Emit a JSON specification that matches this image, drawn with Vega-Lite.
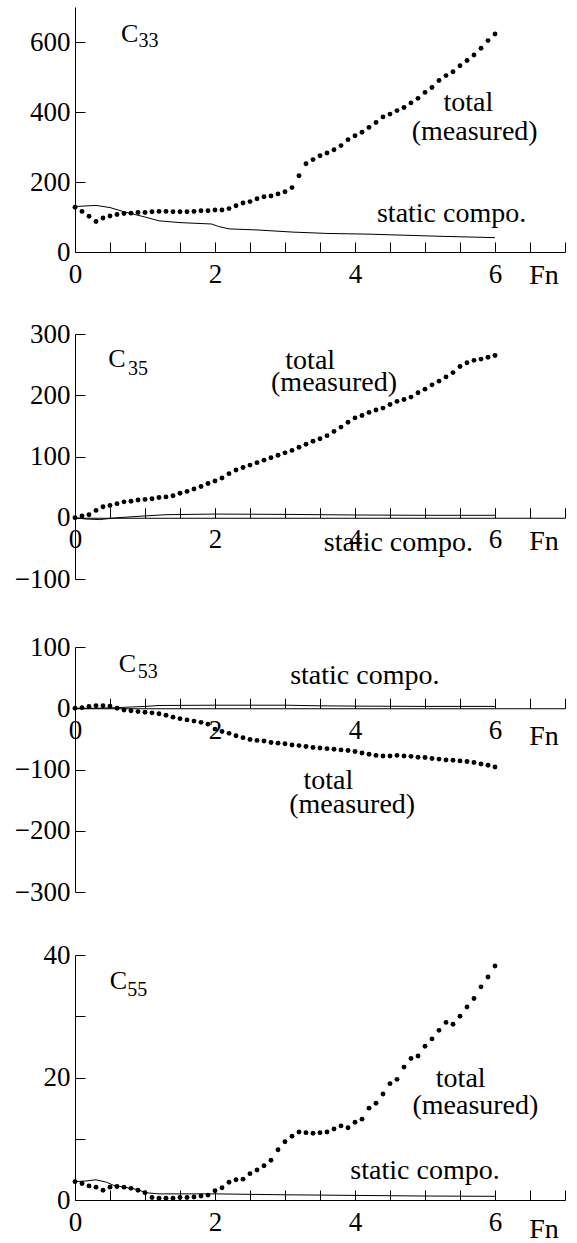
{
  "$schema": "https://vega.github.io/schema/vega-lite/v6.json",
  "padding": {"left": 13, "top": 7, "right": 0, "bottom": 0},
  "background": "white",
  "config": {
    "view": {"stroke": null},
    "font": "Liberation Serif, Times New Roman, DejaVu Serif, serif",
    "axis": {
      "grid": false, "title": null, "domainColor": "black", "tickColor": "black", "labelColor": "black",
      "labelFont": "Liberation Serif, Times New Roman, DejaVu Serif, serif", "labelFontSize": 27, "labelFlush": false, "labelOverlap": false,
      "tickSize": -10, "domainWidth": 1, "tickWidth": 1, "format": "d"
    },
    "axisX": {"values": [0,1,2,3,4,5,6,7], "labelExpr": "datum.value % 2 == 0 && datum.value < 7 ? datum.label : ''", "labelPadding": 19},
    "axisY": {"labelPadding": 15, "minExtent": 62},
    "text": {"font": "Liberation Serif, Times New Roman, DejaVu Serif, serif", "fontSize": 28, "color": "black", "align": "center", "baseline": "middle"},
    "line": {"color": "black", "strokeWidth": 1},
    "point": {"filled": true, "color": "black", "size": 24, "opacity": 1}
  },
  "datasets": {
    "c33_total": [
      {"x":0,"y":128},{"x":0.1,"y":116},{"x":0.2,"y":102},{"x":0.3,"y":87},{"x":0.4,"y":97},{"x":0.5,"y":103},{"x":0.6,"y":107},{"x":0.7,"y":110},{"x":0.8,"y":111},{"x":0.9,"y":113},
      {"x":1.0,"y":113},{"x":1.1,"y":115},{"x":1.2,"y":116},{"x":1.3,"y":116},{"x":1.4,"y":115},{"x":1.5,"y":115},{"x":1.6,"y":115},{"x":1.7,"y":116},{"x":1.8,"y":118},{"x":1.9,"y":118},
      {"x":2.0,"y":120},{"x":2.1,"y":120},{"x":2.2,"y":124},{"x":2.3,"y":132},{"x":2.4,"y":140},{"x":2.5,"y":144},{"x":2.6,"y":152},{"x":2.7,"y":158},{"x":2.8,"y":160},{"x":2.9,"y":166},
      {"x":3.0,"y":172},{"x":3.1,"y":184},{"x":3.2,"y":218},{"x":3.3,"y":252},{"x":3.4,"y":264},{"x":3.5,"y":275},{"x":3.6,"y":283},{"x":3.7,"y":292},{"x":3.8,"y":304},{"x":3.9,"y":321},
      {"x":4.0,"y":332},{"x":4.1,"y":342},{"x":4.2,"y":356},{"x":4.3,"y":370},{"x":4.4,"y":386},{"x":4.5,"y":394},{"x":4.6,"y":404},{"x":4.7,"y":413},{"x":4.8,"y":426},{"x":4.9,"y":439},
      {"x":5.0,"y":456},{"x":5.1,"y":470},{"x":5.2,"y":490},{"x":5.3,"y":504},{"x":5.4,"y":515},{"x":5.5,"y":532},{"x":5.6,"y":547},{"x":5.7,"y":563},{"x":5.8,"y":582},{"x":5.9,"y":604},
      {"x":6.0,"y":623}
    ],
    "c33_static": [
      {"x":0,"y":130},{"x":0.3,"y":133},{"x":0.5,"y":127},{"x":0.7,"y":115},{"x":1.0,"y":100},{"x":1.2,"y":89},{"x":1.5,"y":84},{"x":1.95,"y":80},{"x":2.05,"y":73},{"x":2.2,"y":66},{"x":2.6,"y":63},{"x":3.1,"y":57},{"x":3.6,"y":53},{"x":4.2,"y":51},{"x":4.7,"y":48},{"x":5.2,"y":45},{"x":5.6,"y":43},{"x":6.0,"y":41}
    ],
    "c35_total": [
      {"x":0,"y":0},{"x":0.1,"y":3},{"x":0.2,"y":5},{"x":0.3,"y":12},{"x":0.4,"y":18},{"x":0.5,"y":20},{"x":0.6,"y":23},{"x":0.7,"y":26},{"x":0.8,"y":27},{"x":0.9,"y":29},
      {"x":1.0,"y":30},{"x":1.1,"y":31},{"x":1.2,"y":33},{"x":1.3,"y":34},{"x":1.4,"y":36},{"x":1.5,"y":40},{"x":1.6,"y":43},{"x":1.7,"y":47},{"x":1.8,"y":51},{"x":1.9,"y":56},
      {"x":2.0,"y":60},{"x":2.1,"y":65},{"x":2.2,"y":72},{"x":2.3,"y":78},{"x":2.4,"y":82},{"x":2.5,"y":86},{"x":2.6,"y":90},{"x":2.7,"y":94},{"x":2.8,"y":98},{"x":2.9,"y":102},
      {"x":3.0,"y":106},{"x":3.1,"y":110},{"x":3.2,"y":115},{"x":3.3,"y":120},{"x":3.4,"y":125},{"x":3.5,"y":129},{"x":3.6,"y":134},{"x":3.7,"y":141},{"x":3.8,"y":148},{"x":3.9,"y":156},
      {"x":4.0,"y":163},{"x":4.1,"y":167},{"x":4.2,"y":172},{"x":4.3,"y":176},{"x":4.4,"y":179},{"x":4.5,"y":185},{"x":4.6,"y":190},{"x":4.7,"y":193},{"x":4.8,"y":197},{"x":4.9,"y":204},
      {"x":5.0,"y":210},{"x":5.1,"y":217},{"x":5.2,"y":223},{"x":5.3,"y":230},{"x":5.4,"y":237},{"x":5.5,"y":247},{"x":5.6,"y":253},{"x":5.7,"y":257},{"x":5.8,"y":259},{"x":5.9,"y":262},
      {"x":6.0,"y":265}
    ],
    "c35_static": [
      {"x":0,"y":0},{"x":0.15,"y":-2},{"x":0.35,"y":-3},{"x":0.6,"y":0},{"x":1.0,"y":3},{"x":1.3,"y":5},{"x":2.0,"y":6},{"x":3.0,"y":5.5},{"x":4.0,"y":4.5},{"x":5.0,"y":4},{"x":6.0,"y":4}
    ],
    "c53_total": [
      {"x":0,"y":0},{"x":0.1,"y":1},{"x":0.2,"y":3},{"x":0.3,"y":4},{"x":0.4,"y":4},{"x":0.5,"y":3.5},{"x":0.6,"y":0},{"x":0.7,"y":-3},{"x":0.8,"y":-4},{"x":0.9,"y":-5.5},
      {"x":1.0,"y":-6.5},{"x":1.1,"y":-7.5},{"x":1.2,"y":-9},{"x":1.3,"y":-11.5},{"x":1.4,"y":-14.5},{"x":1.5,"y":-17},{"x":1.6,"y":-19},{"x":1.7,"y":-21},{"x":1.8,"y":-23},{"x":1.9,"y":-26},
      {"x":2.0,"y":-34},{"x":2.1,"y":-38},{"x":2.2,"y":-41},{"x":2.3,"y":-45},{"x":2.4,"y":-48},{"x":2.5,"y":-51},{"x":2.6,"y":-52.5},{"x":2.7,"y":-53.5},{"x":2.8,"y":-56},{"x":2.9,"y":-57},
      {"x":3.0,"y":-58},{"x":3.1,"y":-60},{"x":3.2,"y":-61},{"x":3.3,"y":-62.5},{"x":3.4,"y":-64},{"x":3.5,"y":-65},{"x":3.6,"y":-66},{"x":3.7,"y":-67},{"x":3.8,"y":-68},{"x":3.9,"y":-69},
      {"x":4.0,"y":-70.5},{"x":4.1,"y":-73},{"x":4.2,"y":-75},{"x":4.3,"y":-77},{"x":4.4,"y":-78},{"x":4.5,"y":-78},{"x":4.6,"y":-77},{"x":4.7,"y":-78},{"x":4.8,"y":-78.5},{"x":4.9,"y":-80},
      {"x":5.0,"y":-80.5},{"x":5.1,"y":-82},{"x":5.2,"y":-83},{"x":5.3,"y":-84.5},{"x":5.4,"y":-85},{"x":5.5,"y":-86},{"x":5.6,"y":-87},{"x":5.7,"y":-88.5},{"x":5.8,"y":-91},{"x":5.9,"y":-93},
      {"x":6.0,"y":-96}
    ],
    "c53_static": [
      {"x":0,"y":0},{"x":0.3,"y":0},{"x":0.6,"y":1},{"x":1.0,"y":3},{"x":1.2,"y":4.5},{"x":2.0,"y":5},{"x":3.0,"y":5},{"x":3.5,"y":4},{"x":4.0,"y":3.5},{"x":5.0,"y":3},{"x":6.0,"y":3}
    ],
    "c55_total": [
      {"x":0,"y":3.0},{"x":0.1,"y":2.7},{"x":0.2,"y":2.3},{"x":0.3,"y":2.1},{"x":0.4,"y":1.6},{"x":0.5,"y":2.1},{"x":0.6,"y":2.2},{"x":0.7,"y":2.1},{"x":0.8,"y":1.9},{"x":0.9,"y":1.6},
      {"x":1.0,"y":1.2},{"x":1.1,"y":0.4},{"x":1.2,"y":0.3},{"x":1.3,"y":0.3},{"x":1.4,"y":0.3},{"x":1.5,"y":0.4},{"x":1.6,"y":0.4},{"x":1.7,"y":0.5},{"x":1.8,"y":0.65},{"x":1.9,"y":0.8},
      {"x":2.0,"y":1.5},{"x":2.1,"y":2.0},{"x":2.2,"y":2.9},{"x":2.3,"y":3.3},{"x":2.4,"y":3.4},{"x":2.5,"y":4.3},{"x":2.6,"y":4.9},{"x":2.7,"y":5.6},{"x":2.8,"y":6.5},{"x":2.9,"y":8.2},
      {"x":3.0,"y":9.5},{"x":3.1,"y":10.4},{"x":3.2,"y":11.1},{"x":3.3,"y":11.0},{"x":3.4,"y":10.9},{"x":3.5,"y":11.0},{"x":3.6,"y":11.1},{"x":3.7,"y":11.6},{"x":3.8,"y":12.1},{"x":3.9,"y":11.8},
      {"x":4.0,"y":12.7},{"x":4.1,"y":13.2},{"x":4.2,"y":15.0},{"x":4.3,"y":15.8},{"x":4.4,"y":17.3},{"x":4.5,"y":19.0},{"x":4.6,"y":19.7},{"x":4.7,"y":21.7},{"x":4.8,"y":23.1},{"x":4.9,"y":23.5},
      {"x":5.0,"y":25.1},{"x":5.1,"y":26.3},{"x":5.2,"y":27.7},{"x":5.3,"y":29.0},{"x":5.4,"y":28.7},{"x":5.5,"y":30.0},{"x":5.6,"y":31.5},{"x":5.7,"y":32.9},{"x":5.8,"y":34.8},{"x":5.9,"y":36.4},
      {"x":6.0,"y":38.2}
    ],
    "c55_static": [
      {"x":0,"y":3.0},{"x":0.15,"y":3.1},{"x":0.3,"y":3.3},{"x":0.45,"y":2.9},{"x":0.55,"y":2.4},{"x":0.7,"y":2.1},{"x":0.9,"y":1.7},{"x":1.0,"y":1.2},{"x":1.2,"y":1.0},{"x":2.0,"y":1.0},{"x":3.0,"y":0.85},{"x":4.0,"y":0.75},{"x":5.0,"y":0.65},{"x":6.0,"y":0.6}
    ],
    "one": [{}]
  },
  "bounds": "full",
  "spacing": 29,
  "vconcat": [
    {
      "width": 490, "height": 245,
      "layer": [
        {"data": {"name": "c33_static"}, "mark": {"type": "line"},
         "encoding": {
           "x": {"field": "x", "type": "quantitative", "scale": {"domain": [0, 7]}, "axis": {"offset": 0}},
           "y": {"field": "y", "type": "quantitative", "scale": {"domain": [0, 700]}, "axis": {"values": [0,100,200,300,400,500,600,700], "labelExpr": "datum.value % 200 == 0 ? datum.label : ''"}}
         }},
        {"data": {"name": "c33_total"}, "mark": {"type": "point"},
         "encoding": {"x": {"field": "x", "type": "quantitative"}, "y": {"field": "y", "type": "quantitative"}}},
        {"data": {"name": "one"}, "mark": {"type": "text", "fontSize": 26}, "encoding": {"x": {"datum": 0.78}, "y": {"datum": 624}, "text": {"value": "C"}}},
        {"data": {"name": "one"}, "mark": {"type": "text", "fontSize": 20}, "encoding": {"x": {"datum": 1.05}, "y": {"datum": 604}, "text": {"value": "33"}}},
        {"data": {"name": "one"}, "mark": {"type": "text"}, "encoding": {"x": {"datum": 5.62}, "y": {"datum": 426}, "text": {"value": "total"}}},
        {"data": {"name": "one"}, "mark": {"type": "text"}, "encoding": {"x": {"datum": 5.71}, "y": {"datum": 342}, "text": {"value": "(measured)"}}},
        {"data": {"name": "one"}, "mark": {"type": "text"}, "encoding": {"x": {"datum": 5.38}, "y": {"datum": 108}, "text": {"value": "static compo."}}},
        {"data": {"name": "one"}, "mark": {"type": "text"}, "encoding": {"x": {"datum": 6.7}, "y": {"datum": -69}, "text": {"value": "Fn"}}}
      ]
    },
    {
      "bounds": "full",
      "spacing": 41,
      "vconcat": [
        {
          "width": 490, "height": 245,
          "layer": [
            {"data": {"name": "c35_static"}, "mark": {"type": "line"},
             "encoding": {
               "x": {"field": "x", "type": "quantitative", "scale": {"domain": [0, 7]}, "axis": {"offset": -61.25}},
               "y": {"field": "y", "type": "quantitative", "scale": {"domain": [-100, 300]}, "axis": {"values": [-100,-50,0,50,100,150,200,250,300], "labelExpr": "datum.value % 100 == 0 ? datum.label : ''"}}
             }},
            {"data": {"name": "c35_total"}, "mark": {"type": "point"},
             "encoding": {"x": {"field": "x", "type": "quantitative"}, "y": {"field": "y", "type": "quantitative"}}},
            {"data": {"name": "one"}, "mark": {"type": "text", "fontSize": 26}, "encoding": {"x": {"datum": 0.6}, "y": {"datum": 259}, "text": {"value": "C"}}},
            {"data": {"name": "one"}, "mark": {"type": "text", "fontSize": 20}, "encoding": {"x": {"datum": 0.9}, "y": {"datum": 243}, "text": {"value": "35"}}},
            {"data": {"name": "one"}, "mark": {"type": "text"}, "encoding": {"x": {"datum": 3.36}, "y": {"datum": 256}, "text": {"value": "total"}}},
            {"data": {"name": "one"}, "mark": {"type": "text"}, "encoding": {"x": {"datum": 3.7}, "y": {"datum": 220}, "text": {"value": "(measured)"}}},
            {"data": {"name": "one"}, "mark": {"type": "text"}, "encoding": {"x": {"datum": 4.62}, "y": {"datum": -41}, "text": {"value": "static compo."}}},
            {"data": {"name": "one"}, "mark": {"type": "text"}, "encoding": {"x": {"datum": 6.7}, "y": {"datum": -39}, "text": {"value": "Fn"}}}
          ]
        },
        {
          "bounds": "full",
          "spacing": 36,
          "vconcat": [
            {
              "width": 490, "height": 245,
              "layer": [
                {"data": {"name": "c53_static"}, "mark": {"type": "line"},
                 "encoding": {
                   "x": {"field": "x", "type": "quantitative", "scale": {"domain": [0, 7]}, "axis": {"offset": -183.75}},
                   "y": {"field": "y", "type": "quantitative", "scale": {"domain": [-300, 100]}, "axis": {"values": [-300,-250,-200,-150,-100,-50,0,50,100], "labelExpr": "datum.value % 100 == 0 ? datum.label : ''"}}
                 }},
                {"data": {"name": "c53_total"}, "mark": {"type": "point"},
                 "encoding": {"x": {"field": "x", "type": "quantitative"}, "y": {"field": "y", "type": "quantitative"}}},
                {"data": {"name": "one"}, "mark": {"type": "text", "fontSize": 26}, "encoding": {"x": {"datum": 0.75}, "y": {"datum": 72}, "text": {"value": "C"}}},
                {"data": {"name": "one"}, "mark": {"type": "text", "fontSize": 20}, "encoding": {"x": {"datum": 1.04}, "y": {"datum": 60}, "text": {"value": "53"}}},
                {"data": {"name": "one"}, "mark": {"type": "text"}, "encoding": {"x": {"datum": 4.14}, "y": {"datum": 52}, "text": {"value": "static compo."}}},
                {"data": {"name": "one"}, "mark": {"type": "text"}, "encoding": {"x": {"datum": 3.62}, "y": {"datum": -118}, "text": {"value": "total"}}},
                {"data": {"name": "one"}, "mark": {"type": "text"}, "encoding": {"x": {"datum": 3.96}, "y": {"datum": -158}, "text": {"value": "(measured)"}}},
                {"data": {"name": "one"}, "mark": {"type": "text"}, "encoding": {"x": {"datum": 6.7}, "y": {"datum": -47}, "text": {"value": "Fn"}}}
              ]
            },
            {
              "width": 490, "height": 245,
              "layer": [
                {"data": {"name": "c55_static"}, "mark": {"type": "line"},
                 "encoding": {
                   "x": {"field": "x", "type": "quantitative", "scale": {"domain": [0, 7]}, "axis": {"offset": 0}},
                   "y": {"field": "y", "type": "quantitative", "scale": {"domain": [0, 40]}, "axis": {"values": [0,5,10,15,20,25,30,35,40], "labelExpr": "datum.value % 20 == 0 ? datum.label : ''"}}
                 }},
                {"data": {"name": "c55_total"}, "mark": {"type": "point"},
                 "encoding": {"x": {"field": "x", "type": "quantitative"}, "y": {"field": "y", "type": "quantitative"}}},
                {"data": {"name": "one"}, "mark": {"type": "text", "fontSize": 26}, "encoding": {"x": {"datum": 0.62}, "y": {"datum": 35.8}, "text": {"value": "C"}}},
                {"data": {"name": "one"}, "mark": {"type": "text", "fontSize": 20}, "encoding": {"x": {"datum": 0.89}, "y": {"datum": 34.3}, "text": {"value": "55"}}},
                {"data": {"name": "one"}, "mark": {"type": "text"}, "encoding": {"x": {"datum": 5.51}, "y": {"datum": 19.7}, "text": {"value": "total"}}},
                {"data": {"name": "one"}, "mark": {"type": "text"}, "encoding": {"x": {"datum": 5.72}, "y": {"datum": 15.3}, "text": {"value": "(measured)"}}},
                {"data": {"name": "one"}, "mark": {"type": "text"}, "encoding": {"x": {"datum": 5.0}, "y": {"datum": 4.8}, "text": {"value": "static compo."}}},
                {"data": {"name": "one"}, "mark": {"type": "text"}, "encoding": {"x": {"datum": 6.7}, "y": {"datum": -4.9}, "text": {"value": "Fn"}}}
              ]
            }
          ]
        }
      ]
    }
  ]
}
